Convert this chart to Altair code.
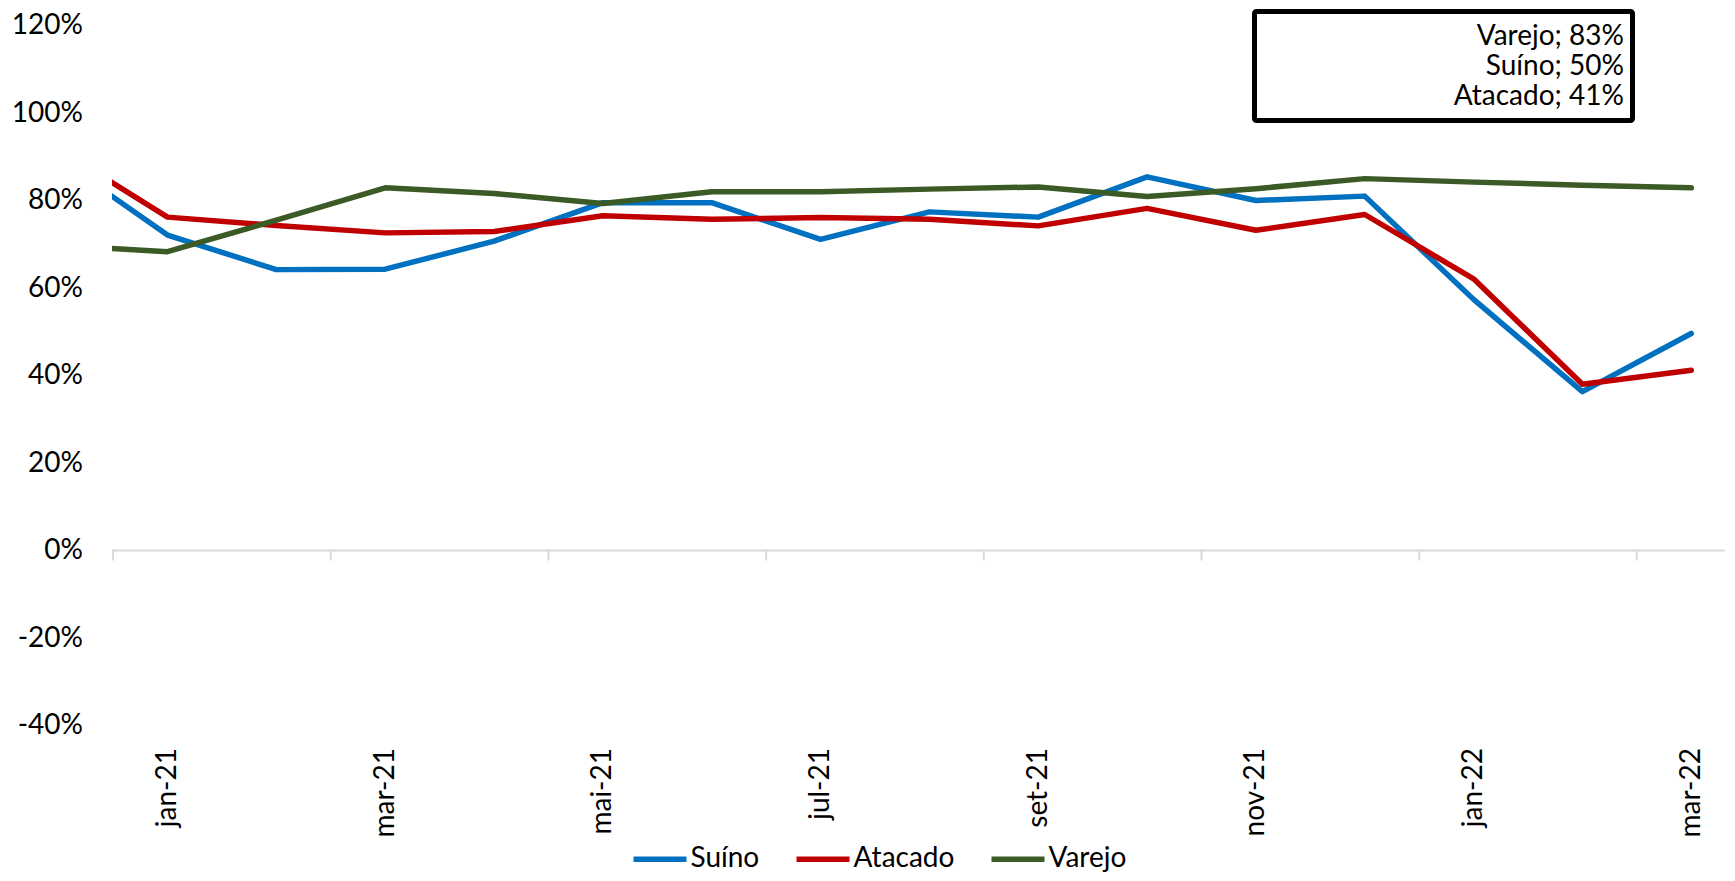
import json
import altair as alt
import pandas as pd

# ---------------- data ----------------
months = ["dez-20", "jan-21", "fev-21", "mar-21", "abr-21", "mai-21", "jun-21", "jul-21",
          "ago-21", "set-21", "out-21", "nov-21", "dez-21", "jan-22", "fev-22", "mar-22"]
suino   = [89.5, 72.1, 64.2, 64.3, 70.7, 79.5, 79.5, 71.1, 77.4, 76.2, 85.4, 80.0, 81.0, 57.4, 36.3, 49.6]
atacado = [91.7, 76.2, 74.3, 72.6, 72.9, 76.5, 75.7, 76.1, 75.7, 74.2, 78.2, 73.2, 76.8, 62.1, 38.0, 41.2]
varejo  = [69.7, 68.3, 75.5, 82.9, 81.6, 79.3, 82.0, 82.0, 82.6, 83.1, 80.9, 82.7, 85.0, 84.2, 83.5, 82.9]
series = ["Suíno", "Atacado", "Varejo"]
colors = ["#0070C0", "#C00000", "#3B5A26"]
y_ticks = [-40, -20, 0, 20, 40, 60, 80, 100, 120]
label_idx = [1, 3, 5, 7, 9, 11, 13, 15]
tick_pos = [0.5, 2.5, 4.5, 6.5, 8.5, 10.5, 12.5, 14.5]

rows = []
for name, vals in zip(series, [suino, atacado, varejo]):
    for i, v in enumerate(vals):
        rows.append({"idx": i, "serie": name, "valor": v})
df = pd.DataFrame(rows)

last = sorted([(name, vals[-1]) for name, vals in zip(series, [suino, atacado, varejo])],
              key=lambda t: -t[1])
box_text = "\n".join(f"{n}; {round(v):.0f}%" for n, v in last)

W, H = 1613, 700
FONT = "Lato"
FS = 28

xscale = alt.Scale(domain=[0.49, 15.31], nice=False, zero=False)
yscale = alt.Scale(domain=[-40, 120], nice=False, zero=False)
zero_px = H * 120 / 160

label_expr = json.dumps(months) + "[datum.value]"

lines = alt.Chart(df).mark_line(strokeWidth=5.5, clip=True, strokeCap="round",
                                strokeJoin="round").encode(
    x=alt.X("idx:Q", scale=xscale,
            axis=alt.Axis(values=label_idx, labelExpr=label_expr, labelAngle=-90,
                          ticks=False, tickSize=0, domain=False, grid=False,
                          labelPadding=22, title=None, labelFontSize=FS, labelFont=FONT,
                          labelColor="black", labelOverlap=False, labelFlush=False,
                          labelBound=False, labelBaseline="middle", labelAlign="right")),
    y=alt.Y("valor:Q", scale=yscale,
            axis=alt.Axis(values=y_ticks, labelExpr="datum.value + '%'", ticks=False,
                          tickSize=0, domain=False, grid=False, labelPadding=29.5,
                          title=None, labelFontSize=FS, labelFont=FONT, labelColor="black",
                          labelFlush=False, labelOverlap=False)),
    color=alt.Color("serie:N", scale=alt.Scale(domain=series, range=colors),
                    sort=series,
                    legend=alt.Legend(orient="none", legendX=518.5, legendY=804,
                                      direction="horizontal", title=None,
                                      symbolType="stroke", symbolSize=2809,
                                      symbolStrokeWidth=5.5, labelFontSize=FS,
                                      labelFont=FONT, labelColor="black",
                                      columnPadding=26, labelOffset=1, padding=0,
                                      labelLimit=0)),
    order=alt.Order("idx:Q"),
)

zero_line = alt.Chart(pd.DataFrame({"v": [0]})).mark_rule(
    color="#D9D9D9", strokeWidth=2).encode(y=alt.Y("v:Q", scale=yscale))

ticks = alt.Chart(pd.DataFrame({"p": tick_pos})).mark_rule(
    color="#D9D9D9", strokeWidth=2).encode(
    x=alt.X("p:Q", scale=xscale),
    y=alt.value(zero_px),
    y2=alt.value(zero_px + 10),
)

one = pd.DataFrame({"a": [0]})
box = alt.Chart(one).mark_rect(fill="white", stroke="black", strokeWidth=5,
                               cornerRadius=2).encode(
    x=alt.value(1142.5), x2=alt.value(1520.5),
    y=alt.value(-14), y2=alt.value(95),
)
box_txt = alt.Chart(pd.DataFrame({"t": [box_text]})).mark_text(
    align="right", baseline="middle", lineBreak="\n", lineHeight=30,
    fontSize=FS, font=FONT, color="black").encode(
    x=alt.value(1512), y=alt.value(11.5), text="t:N")

chart = alt.layer(zero_line, ticks, lines, box, box_txt).properties(
    width=W, height=H,
    autosize=alt.AutoSizeParams(type="none"),
    padding={"left": 104, "top": 17.5, "right": 2, "bottom": 147},
).configure(background="white").configure_view(stroke=None)

chart.save("out.html", embed_options={"renderer": "svg", "actions": False})
